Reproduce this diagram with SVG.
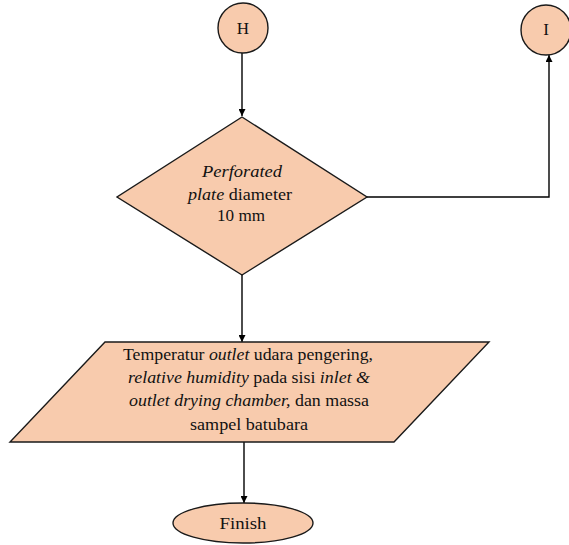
<svg xmlns="http://www.w3.org/2000/svg" width="569" height="545" viewBox="0 0 569 545">
<defs>
<style>
.n{fill:#F8CBAD;stroke:#1a1a1a;stroke-width:1.4}
.c{fill:none;stroke:#000;stroke-width:1.4}
text{font-family:'Liberation Serif','Times New Roman','DejaVu Serif',serif;font-size:17px;fill:#111;text-anchor:middle}
.i{font-style:italic}
</style>
<marker id="ah" viewBox="0 0 10 10" refX="10" refY="5" markerWidth="7" markerHeight="7" orient="auto" markerUnits="userSpaceOnUse">
<path d="M0,0 L10,5 L0,10 z" fill="#000"/>
</marker>
</defs>
<rect width="569" height="545" fill="#fff"/>
<g id="connectors">
<line class="c" x1="242" y1="53" x2="242" y2="116" marker-end="url(#ah)"/>
<polyline class="c" points="367,197 549,197 549,55" marker-end="url(#ah)"/>
<line class="c" x1="242" y1="275" x2="242" y2="342" marker-end="url(#ah)"/>
<line class="c" x1="244" y1="442" x2="244" y2="503" marker-end="url(#ah)"/>
</g>
<g id="H">
<circle class="n" cx="243" cy="28" r="25"/>
<text x="243" y="34" font-family="Liberation Serif, serif">H</text>
</g>
<g id="I">
<circle class="n" cx="546" cy="30" r="25"/>
<text x="546" y="35" font-family="Liberation Serif, serif">I</text>
</g>
<g id="decision">
<polygon class="n" points="242,117 367,197 242,275 117,197"/>
<text x="242" y="177" class="i" textLength="80" lengthAdjust="spacingAndGlyphs">Perforated</text>
<text x="240" y="200" textLength="104" lengthAdjust="spacingAndGlyphs"><tspan class="i">plate</tspan> diameter</text>
<text x="241" y="221" textLength="48" lengthAdjust="spacingAndGlyphs">10 mm</text>
</g>
<g id="data">
<polygon class="n" points="105,342 489,342 394,442 10,442"/>
<text x="248" y="360" textLength="250" lengthAdjust="spacingAndGlyphs">Temperatur <tspan class="i">outlet</tspan> udara pengering,</text>
<text x="249" y="383" textLength="242" lengthAdjust="spacingAndGlyphs"><tspan class="i">relative humidity</tspan> pada sisi <tspan class="i">inlet &amp;</tspan></text>
<text x="249" y="406" textLength="240" lengthAdjust="spacingAndGlyphs"><tspan class="i">outlet drying chamber,</tspan> dan massa</text>
<text x="249" y="430" textLength="118" lengthAdjust="spacingAndGlyphs">sampel batubara</text>
</g>
<g id="finish">
<ellipse class="n" cx="243" cy="523" rx="70" ry="20"/>
<text x="243" y="529" textLength="47" lengthAdjust="spacingAndGlyphs">Finish</text>
</g>
</svg>
